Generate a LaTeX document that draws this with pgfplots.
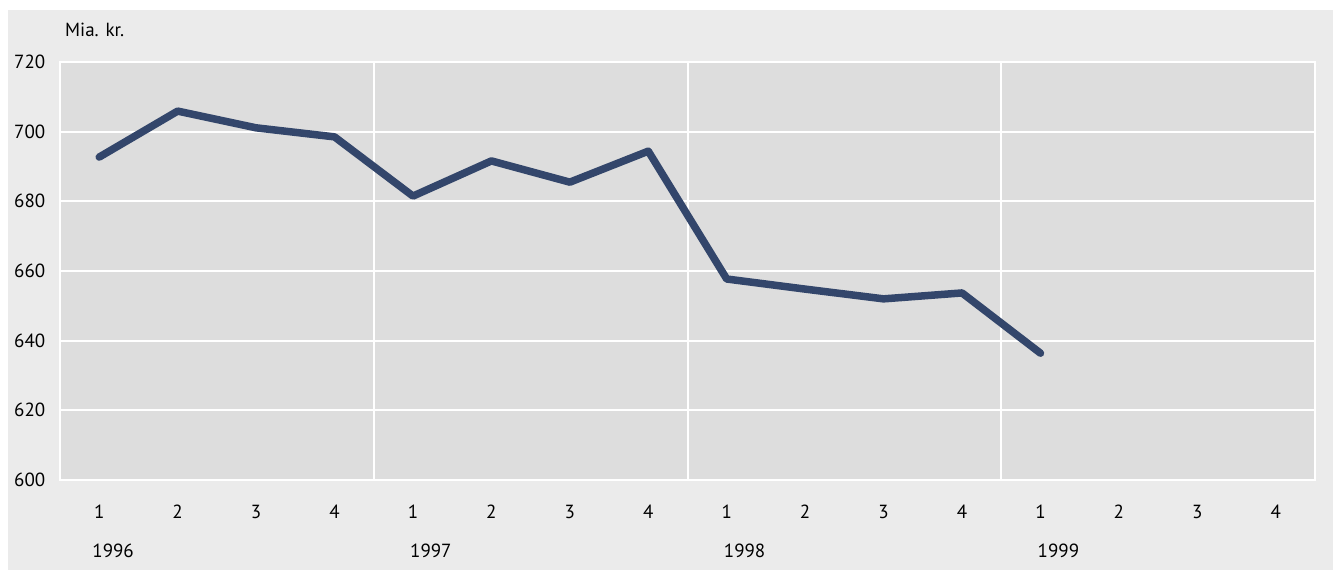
\documentclass[border=0pt]{standalone}
\usepackage{fontspec}
\setmainfont{PT Sans}
\usepackage{pgfplots}
\pgfplotsset{compat=1.18}
\definecolor{outergray}{HTML}{EBEBEB}
\definecolor{plotgray}{HTML}{DDDDDD}
\definecolor{navy}{HTML}{33466B}
\begin{document}
\fontsize{19bp}{22bp}\selectfont
\begin{tikzpicture}[x=1bp,y=1bp]
\path[use as bounding box] (0,0) rectangle (1335,570);
\fill[white] (0,0) rectangle (1335,570);
\fill[outergray] (8,0) rectangle (1333,560);
\node[anchor=west,inner sep=0] at (65,540) {Mia. kr.};
\begin{axis}[
  at={(60bp,90bp)}, anchor=south west,
  scale only axis, width=1255bp, height=418bp,
  xmin=0, xmax=16, ymin=600, ymax=720,
  axis background/.style={fill=plotgray},
  axis line style={white, line width=2bp},
  xtick={0.5,1.5,...,15.5},
  xticklabels={1,2,3,4,1,2,3,4,1,2,3,4,1,2,3,4},
  ytick={600,620,...,720},
  major tick length=0,
  ymajorgrids,
  grid style={white, line width=2bp},
  extra x ticks={4,8,12},
  extra x tick labels={},
  extra x tick style={grid=major, major tick length=0},
  /pgf/number format/assume math mode=true,
  /pgf/number format/1000 sep={},
  xticklabel style={anchor=center, inner sep=0, yshift=-32bp, font=\fontsize{19bp}{22bp}\selectfont},
  yticklabel style={anchor=west, inner sep=0, xshift=-46bp, font=\fontsize{19bp}{22bp}\selectfont},
  clip=false,
]
\addplot[navy, line width=7.5bp, line cap=round, line join=round] coordinates {
(0.5,692.7) (1.5,705.9) (2.5,701.1) (3.5,698.5)
(4.5,681.5) (5.5,691.6) (6.5,685.5) (7.5,694.4)
(8.5,657.7) (9.5,654.8) (10.5,652.0) (11.5,653.7)
(12.5,636.4)
};
\node[anchor=west,inner sep=0] at (axis cs:0.5,600) [xshift=-7bp,yshift=-71bp] {1996};
\node[anchor=west,inner sep=0] at (axis cs:4.5,600) [xshift=-3bp,yshift=-71bp] {1997};
\node[anchor=west,inner sep=0] at (axis cs:8.5,600) [xshift=-3bp,yshift=-71bp] {1998};
\node[anchor=west,inner sep=0] at (axis cs:12.5,600) [xshift=-3bp,yshift=-71bp] {1999};
\end{axis}
\end{tikzpicture}
\end{document}
